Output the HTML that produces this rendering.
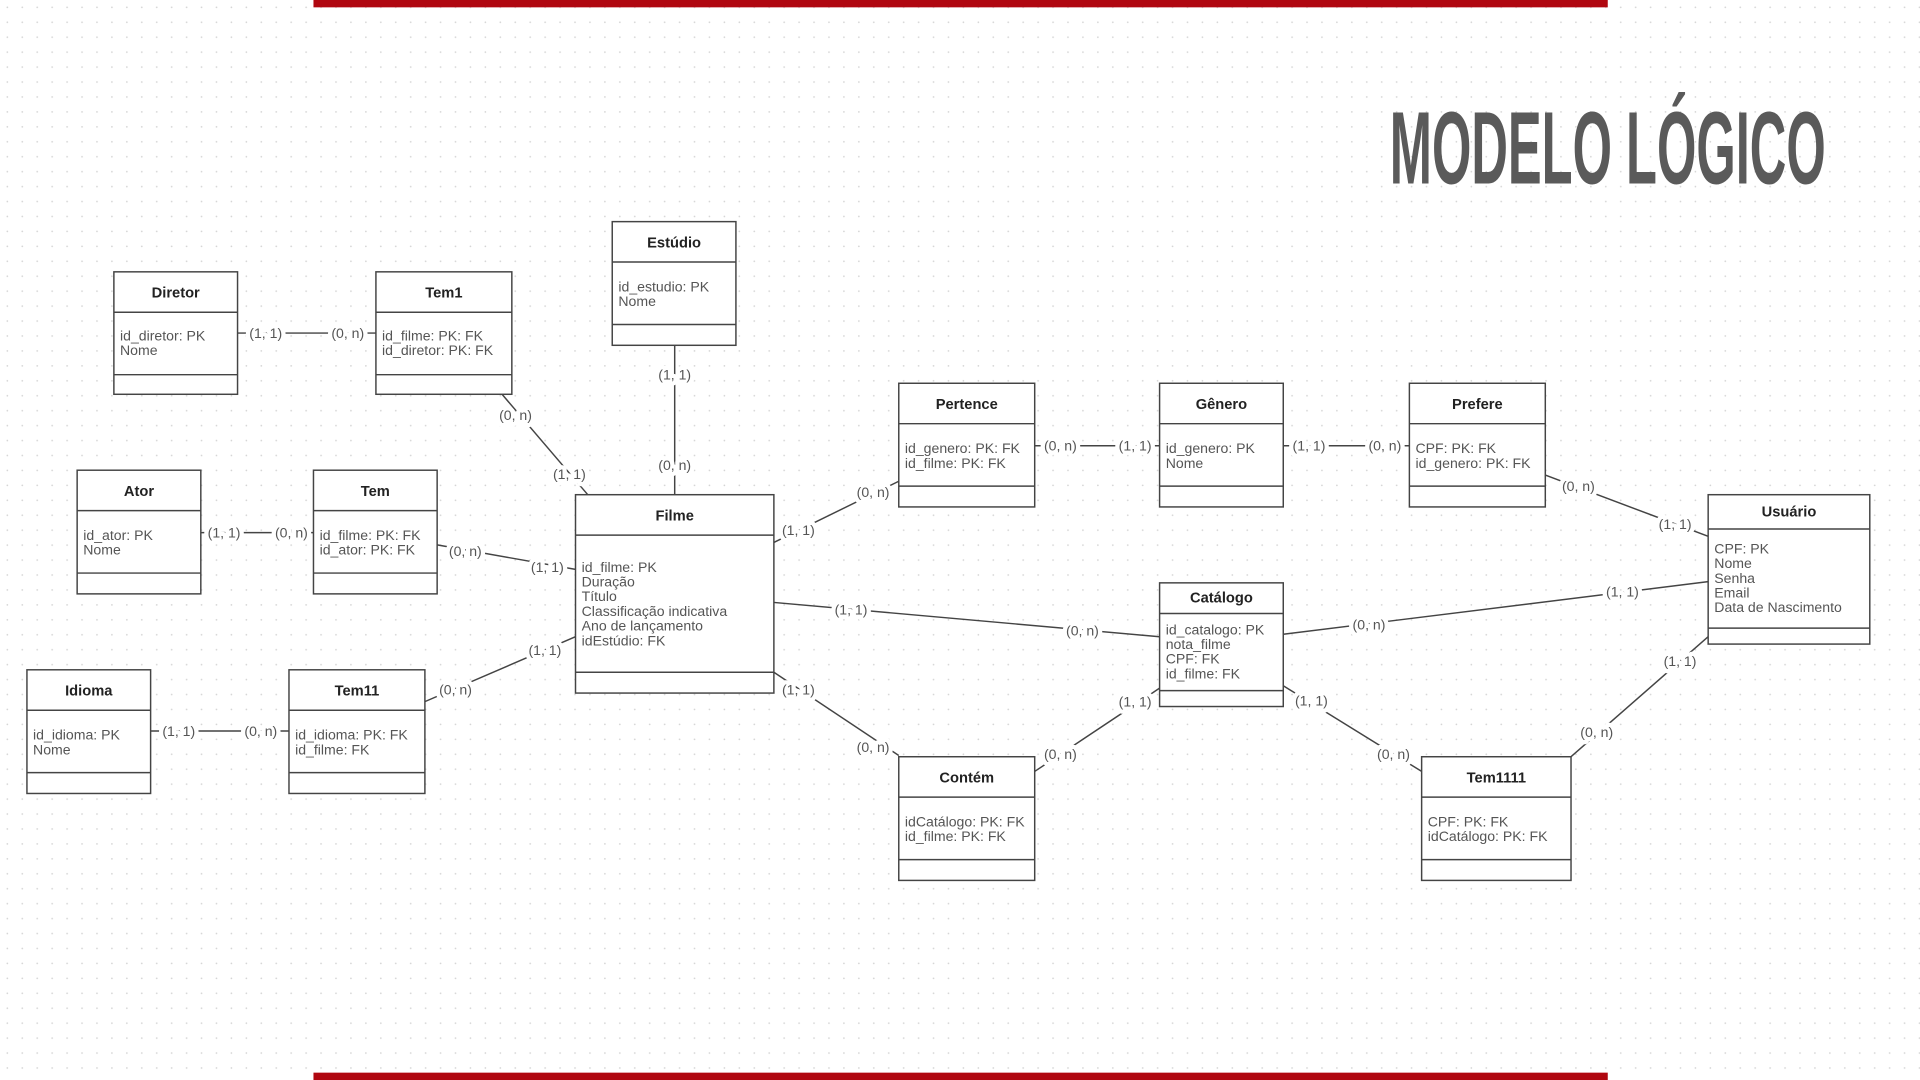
<!DOCTYPE html>
<html><head><meta charset="utf-8"><style>
html,body{margin:0;padding:0;background:#fff;width:1920px;height:1080px;overflow:hidden}
svg{display:block}
text{font-family:"Liberation Sans Narrow","Liberation Sans",sans-serif}
.h{font-weight:bold;font-size:12px;fill:#222;text-anchor:middle}
.a{font-size:11.5px;fill:#555}
.l{font-size:11.5px;fill:#555;text-anchor:middle;paint-order:stroke;stroke:#fff;stroke-width:7px;stroke-linejoin:round}
.b{fill:#fff;stroke:#444;stroke-width:1.2}
.ln{stroke:#444;stroke-width:1.2;fill:none}
</style></head><body>
<svg width="1920" height="1080" viewBox="0 0 1568 882" preserveAspectRatio="none">
<defs><pattern id="d" width="12.2" height="12.2" patternUnits="userSpaceOnUse"><circle cx="6" cy="6" r="0.7" fill="#d4d4d4"/></pattern></defs>
<rect width="1568" height="882" fill="#fff"/>
<rect width="1568" height="882" fill="url(#d)"/>
<rect x="256" y="0" width="1057" height="6" fill="#b00710"/>
<rect x="256" y="876" width="1057" height="6" fill="#b00710"/>
<text x="1135" y="150" textLength="356" lengthAdjust="spacingAndGlyphs" style="font-family:'Liberation Sans Narrow','Liberation Sans',sans-serif;font-weight:bold;font-size:84px;fill:#5a5a5a">MODELO LÓGICO</text>

<g class="ln">
<line x1="194" y1="272" x2="307" y2="272"/>
<line x1="410" y1="322" x2="480" y2="404"/>
<line x1="551" y1="282" x2="551" y2="404"/>
<line x1="164" y1="435" x2="256" y2="435"/>
<line x1="357" y1="445" x2="470" y2="465"/>
<line x1="123" y1="597" x2="236" y2="597"/>
<line x1="347" y1="573" x2="470" y2="520"/>
<line x1="632" y1="443" x2="734" y2="393"/>
<line x1="845" y1="364" x2="947" y2="364"/>
<line x1="1048" y1="364" x2="1151" y2="364"/>
<line x1="1262" y1="388" x2="1395" y2="438"/>
<line x1="632" y1="492" x2="947" y2="520"/>
<line x1="1048" y1="518" x2="1395" y2="475"/>
<line x1="632" y1="549" x2="734" y2="617"/>
<line x1="845" y1="630" x2="947" y2="562"/>
<line x1="1048" y1="560" x2="1161" y2="630"/>
<line x1="1283" y1="618" x2="1395" y2="520"/>
</g>
<g class="l">
<text x="217" y="276">(1, 1)</text><text x="284" y="276">(0, n)</text>
<text x="421" y="343">(0, n)</text><text x="465" y="391">(1, 1)</text>
<text x="551" y="310">(1, 1)</text><text x="551" y="384">(0, n)</text>
<text x="183" y="439">(1, 1)</text><text x="238" y="439">(0, n)</text>
<text x="380" y="454">(0, n)</text><text x="447" y="467">(1, 1)</text>
<text x="146" y="601">(1, 1)</text><text x="213" y="601">(0, n)</text>
<text x="372" y="567">(0, n)</text><text x="445" y="535">(1, 1)</text>
<text x="652" y="437">(1, 1)</text><text x="713" y="406">(0, n)</text>
<text x="866" y="368">(0, n)</text><text x="927" y="368">(1, 1)</text>
<text x="1069" y="368">(1, 1)</text><text x="1131" y="368">(0, n)</text>
<text x="1289" y="401">(0, n)</text><text x="1368" y="432">(1, 1)</text>
<text x="695" y="502">(1, 1)</text><text x="884" y="519">(0, n)</text>
<text x="1118" y="514">(0, n)</text><text x="1325" y="487">(1, 1)</text>
<text x="652" y="567">(1, 1)</text><text x="713" y="614">(0, n)</text>
<text x="866" y="620">(0, n)</text><text x="927" y="577">(1, 1)</text>
<text x="1071" y="576">(1, 1)</text><text x="1138" y="620">(0, n)</text>
<text x="1304" y="602">(0, n)</text><text x="1372" y="544">(1, 1)</text>
</g>

<g>
<rect class="b" x="93" y="222" width="101" height="100"/><line class="ln" x1="93" y1="255" x2="194" y2="255"/><line class="ln" x1="93" y1="306" x2="194" y2="306"/>
<text class="h" x="143.5" y="243">Diretor</text><text class="a" x="98" y="278">id_diretor: PK</text><text class="a" x="98" y="290">Nome</text>

<rect class="b" x="307" y="222" width="111" height="100"/><line class="ln" x1="307" y1="255" x2="418" y2="255"/><line class="ln" x1="307" y1="306" x2="418" y2="306"/>
<text class="h" x="362.5" y="243">Tem1</text><text class="a" x="312" y="278">id_filme: PK: FK</text><text class="a" x="312" y="290">id_diretor: PK: FK</text>

<rect class="b" x="500" y="181" width="101" height="101"/><line class="ln" x1="500" y1="214" x2="601" y2="214"/><line class="ln" x1="500" y1="265" x2="601" y2="265"/>
<text class="h" x="550.5" y="202">Estúdio</text><text class="a" x="505" y="238">id_estudio: PK</text><text class="a" x="505" y="250">Nome</text>

<rect class="b" x="63" y="384" width="101" height="101"/><line class="ln" x1="63" y1="417" x2="164" y2="417"/><line class="ln" x1="63" y1="468" x2="164" y2="468"/>
<text class="h" x="113.5" y="405">Ator</text><text class="a" x="68" y="441">id_ator: PK</text><text class="a" x="68" y="453">Nome</text>

<rect class="b" x="256" y="384" width="101" height="101"/><line class="ln" x1="256" y1="417" x2="357" y2="417"/><line class="ln" x1="256" y1="468" x2="357" y2="468"/>
<text class="h" x="306.5" y="405">Tem</text><text class="a" x="261" y="441">id_filme: PK: FK</text><text class="a" x="261" y="453">id_ator: PK: FK</text>

<rect class="b" x="470" y="404" width="162" height="162"/><line class="ln" x1="470" y1="437" x2="632" y2="437"/><line class="ln" x1="470" y1="549" x2="632" y2="549"/>
<text class="h" x="551" y="425">Filme</text>
<text class="a" x="475" y="467">id_filme: PK</text><text class="a" x="475" y="479">Duração</text><text class="a" x="475" y="491">Título</text><text class="a" x="475" y="503">Classificação indicativa</text><text class="a" x="475" y="515">Ano de lançamento</text><text class="a" x="475" y="527">idEstúdio: FK</text>

<rect class="b" x="22" y="547" width="101" height="101"/><line class="ln" x1="22" y1="580" x2="123" y2="580"/><line class="ln" x1="22" y1="631" x2="123" y2="631"/>
<text class="h" x="72.5" y="568">Idioma</text><text class="a" x="27" y="604">id_idioma: PK</text><text class="a" x="27" y="616">Nome</text>

<rect class="b" x="236" y="547" width="111" height="101"/><line class="ln" x1="236" y1="580" x2="347" y2="580"/><line class="ln" x1="236" y1="631" x2="347" y2="631"/>
<text class="h" x="291.5" y="568">Tem11</text><text class="a" x="241" y="604">id_idioma: PK: FK</text><text class="a" x="241" y="616">id_filme: FK</text>

<rect class="b" x="734" y="313" width="111" height="101"/><line class="ln" x1="734" y1="346" x2="845" y2="346"/><line class="ln" x1="734" y1="397" x2="845" y2="397"/>
<text class="h" x="789.5" y="334">Pertence</text><text class="a" x="739" y="370">id_genero: PK: FK</text><text class="a" x="739" y="382">id_filme: PK: FK</text>

<rect class="b" x="947" y="313" width="101" height="101"/><line class="ln" x1="947" y1="346" x2="1048" y2="346"/><line class="ln" x1="947" y1="397" x2="1048" y2="397"/>
<text class="h" x="997.5" y="334">Gênero</text><text class="a" x="952" y="370">id_genero: PK</text><text class="a" x="952" y="382">Nome</text>

<rect class="b" x="1151" y="313" width="111" height="101"/><line class="ln" x1="1151" y1="346" x2="1262" y2="346"/><line class="ln" x1="1151" y1="397" x2="1262" y2="397"/>
<text class="h" x="1206.5" y="334">Prefere</text><text class="a" x="1156" y="370">CPF: PK: FK</text><text class="a" x="1156" y="382">id_genero: PK: FK</text>

<rect class="b" x="1395" y="404" width="132" height="122"/><line class="ln" x1="1395" y1="432" x2="1527" y2="432"/><line class="ln" x1="1395" y1="513" x2="1527" y2="513"/>
<text class="h" x="1461" y="422">Usuário</text>
<text class="a" x="1400" y="452">CPF: PK</text><text class="a" x="1400" y="464">Nome</text><text class="a" x="1400" y="476">Senha</text><text class="a" x="1400" y="488">Email</text><text class="a" x="1400" y="500">Data de Nascimento</text>

<rect class="b" x="947" y="476" width="101" height="101"/><line class="ln" x1="947" y1="501" x2="1048" y2="501"/><line class="ln" x1="947" y1="564" x2="1048" y2="564"/>
<text class="h" x="997.5" y="492">Catálogo</text>
<text class="a" x="952" y="518">id_catalogo: PK</text><text class="a" x="952" y="530">nota_filme</text><text class="a" x="952" y="542">CPF: FK</text><text class="a" x="952" y="554">id_filme: FK</text>

<rect class="b" x="734" y="618" width="111" height="101"/><line class="ln" x1="734" y1="651" x2="845" y2="651"/><line class="ln" x1="734" y1="702" x2="845" y2="702"/>
<text class="h" x="789.5" y="639">Contém</text><text class="a" x="739" y="675">idCatálogo: PK: FK</text><text class="a" x="739" y="687">id_filme: PK: FK</text>

<rect class="b" x="1161" y="618" width="122" height="101"/><line class="ln" x1="1161" y1="651" x2="1283" y2="651"/><line class="ln" x1="1161" y1="702" x2="1283" y2="702"/>
<text class="h" x="1222" y="639">Tem1111</text><text class="a" x="1166" y="675">CPF: PK: FK</text><text class="a" x="1166" y="687">idCatálogo: PK: FK</text>
</g>
</svg>
</body></html>
